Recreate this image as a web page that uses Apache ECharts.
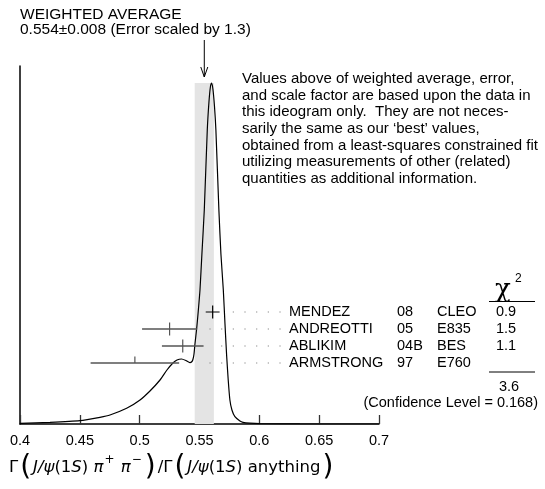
<!DOCTYPE html>
<html><head><meta charset="utf-8">
<script src="https://cdn.jsdelivr.net/npm/echarts@6/dist/echarts.min.js"></script>
<style>html,body{margin:0;padding:0;background:#fff}#c{width:545px;height:489px}</style>
</head><body><div id="c"></div>
<script>
// ---- data ----
const xTicks = [0.4, 0.45, 0.5, 0.55, 0.6, 0.65, 0.7];
const names = ['MENDEZ', 'ANDREOTTI', 'ABLIKIM', 'ARMSTRONG'];
const years = ['08', '05', '04B', '97'];
const experiments = ['CLEO', 'E835', 'BES', 'E760'];
const values = [0.561, 0.525, 0.536, 0.496];
const errors = [0.0058, 0.023, 0.0174, 0.037];
const chi2 = ['0.9', '1.5', '1.1', ''];
const chi2Total = '3.6';
const confidenceLevel = '0.168';
const avgValue = 0.554;
const avgError = 0.008;
const scaleFactor = 1.3;
// ideogram curve (x value, height in arbitrary units)
const curveX = [0.4000,0.4251,0.4501,0.4668,0.4752,0.4891,0.5003,0.5086,0.5170,0.5228,0.5278,0.5312,0.5350,0.5386,0.5420,0.5437,0.5446,0.5454,0.5462,0.5476,0.5489,0.5504,0.5521,0.5540,0.5565,0.5579,0.5591,0.5601,0.5612,0.5625,0.5637,0.5662,0.5679,0.5699,0.5713,0.5727,0.5740,0.5754,0.5771,0.5796,0.5838,0.5863,0.5921,0.6005,0.6339,0.7000];
const curveY = [0.7,1.6,3.3,6.7,9,15.7,24,33,44,54,61,64,65,63.5,61.3,62.5,65,70,80,95,112,134,172,214,294,322,337,341,335,318,294,214,170,134,100,68,44,24,14,7.3,3,1.7,0.8,0.3,0.05,0];

// ---- layout ----
const F = '"Liberation Sans", Arial, Helvetica, sans-serif';
const FS = 14.5;
const rowY0 = 312, rowGap = 17;
const colName = 289, colYear = 397, colExp = 437, colChi = 506;
const dotStart = 210, dotStep = 11.67, dotEnd = 284;

const chart = echarts.init(document.getElementById('c'), null, {renderer: 'canvas'});

const graphics = [];
function txt(x, y, s, opt) {
  graphics.push({type: 'text', x: x, y: y, silent: true,
    style: Object.assign({text: s, font: FS + 'px ' + F, fill: '#000', textVerticalAlign: 'middle', textAlign: 'left'}, opt || {})});
}
txt(20, 15, 'WEIGHTED AVERAGE', {font: '15.5px ' + F});
txt(20, 30, avgValue.toFixed(3) + '\u00b1' + avgError.toFixed(3) + ' (Error scaled by ' + scaleFactor + ')', {font: '15.5px ' + F});
const para = ['Values above of weighted average, error,',
  'and scale factor are based upon the data in',
  'this ideogram only.  They are not neces-',
  'sarily the same as our \u2018best\u2019 values,',
  'obtained from a least-squares constrained fit',
  'utilizing measurements of other (related)',
  'quantities as additional information.'];
para.forEach((l, i) => txt(242, 79 + i * 16.6, l, {font: '15px ' + F}));
names.forEach((n, i) => {
  const y = rowY0 + i * rowGap;
  txt(colName, y, n);
  txt(colYear, y, years[i]);
  txt(colExp, y, experiments[i]);
  txt(colChi, y, chi2[i], {textAlign: 'center'});
});
// chi2 header
txt(colChi - 3, 290, '\u03c7', {font: '26px "DejaVu Serif", serif', textAlign: 'center'});
txt(colChi + 9, 279, '2', {font: '12px ' + F});
graphics.push({type: 'line', silent: true, shape: {x1: 489, y1: 301.5, x2: 535, y2: 301.5}, style: {stroke: '#000', lineWidth: 1}});
graphics.push({type: 'line', silent: true, shape: {x1: 489, y1: 372, x2: 535, y2: 372}, style: {stroke: '#000', lineWidth: 1}});
txt(colChi + 3, 387, chi2Total, {textAlign: 'center'});
txt(538, 403, '(Confidence Level = ' + confidenceLevel + ')', {textAlign: 'right'});
// axis title (rich)
graphics.push({type: 'text', x: 9, y: 468, silent: true, style: {
  text: '{n|\u0393}{p|(}{i|J/\u03c8}{n|(1}{i|S}{n|)}{n| }{i|\u03c0}{s|+}{n| }{i|\u03c0}{s|\u2212}{p|)}{n|/\u0393}{p|(}{i|J/\u03c8}{n|(1}{i|S}{n|)}{n| anything}{p|)}',
  textVerticalAlign: 'middle', textAlign: 'left',
  rich: {
    n: {fontSize: 16.5, fontFamily: '"DejaVu Sans", sans-serif', fill: '#000'},
    i: {fontSize: 16.5, fontFamily: '"DejaVu Sans", sans-serif', fontStyle: 'italic', fill: '#000'},
    p: {fontSize: 28, fontFamily: '"DejaVu Sans", sans-serif', fill: '#000', padding: [0, 2, 0, 2]},
    s: {fontSize: 12, fontFamily: '"DejaVu Sans", sans-serif', fill: '#000', verticalAlign: 'top', padding: [0, 1, 10, 1]}
  }}});

const barData = values.map((v, i) => [v, errors[i], i]);

chart.setOption({
  animation: false,
  grid: {left: 20, right: 166, top: 66, bottom: 65},
  xAxis: {type: 'value', min: xTicks[0], max: xTicks[xTicks.length - 1], interval: 0.05,
    axisLine: {lineStyle: {color: '#000', width: 1.5}},
    axisTick: {inside: true, length: 9, lineStyle: {color: '#333', width: 1.3}},
    axisLabel: {color: '#000', fontSize: FS, fontFamily: F, margin: 9},
    splitLine: {show: false}},
  yAxis: {type: 'value', min: 0, max: 358,
    axisLine: {show: true, lineStyle: {color: '#000', width: 1.5}},
    axisTick: {show: false}, axisLabel: {show: false}, splitLine: {show: false}},
  series: [
    {type: 'line', data: [], z: 1, silent: true,
      markArea: {silent: true, itemStyle: {color: '#e4e4e4'},
        data: [[{xAxis: avgValue - avgError, yAxis: 0}, {xAxis: avgValue + avgError, yAxis: Math.max.apply(null, curveY)}]]}},
    {type: 'line', z: 3, silent: true, showSymbol: false, smooth: 0.2,
      data: curveX.map((x, i) => [x, curveY[i]]),
      lineStyle: {color: '#000', width: 1.2}},
    {type: 'custom', z: 4, clip: false, silent: true, data: barData,
      renderItem: function (params, api) {
        const v = api.value(0), e = api.value(1), idx = api.value(2);
        const y = rowY0 + idx * rowGap;
        const xl = api.coord([v - e, 0])[0], xr = api.coord([v + e, 0])[0], xc = api.coord([v, 0])[0];
        const main = idx === 0;
        const col = main ? '#000' : '#555';
        const ch = [
          {type: 'line', shape: {x1: xl, y1: y, x2: xr, y2: y}, style: {stroke: col, lineWidth: main ? 1 : 1.6}},
          {type: 'line', shape: {x1: xc, y1: y - 6.5, x2: xc, y2: idx === 3 ? y : y + 6.5}, style: {stroke: col, lineWidth: 1.2}}
        ];
        for (let k = 0; dotStart + k * dotStep <= dotEnd; k++) {
          const dx = dotStart + k * dotStep;
          if (dx > xr + 8) ch.push({type: 'rect', shape: {x: dx - 0.6, y: y - 0.6, width: 1.2, height: 1.2}, style: {fill: '#888'}});
        }
        return {type: 'group', children: ch};
      }},
    {type: 'custom', z: 4, clip: false, silent: true, data: [[avgValue]],
      renderItem: function (params, api) {
        const x = api.coord([api.value(0), 0])[0];
        return {type: 'group', children: [
          {type: 'line', shape: {x1: x, y1: 40, x2: x, y2: 77}, style: {stroke: '#000', lineWidth: 1}},
          {type: 'polyline', shape: {points: [[x - 3.5, 67], [x, 77], [x + 3.5, 67]]}, style: {stroke: '#000', lineWidth: 1, fill: null}}
        ]};
      }}
  ],
  graphic: graphics
});
</script></body></html>
